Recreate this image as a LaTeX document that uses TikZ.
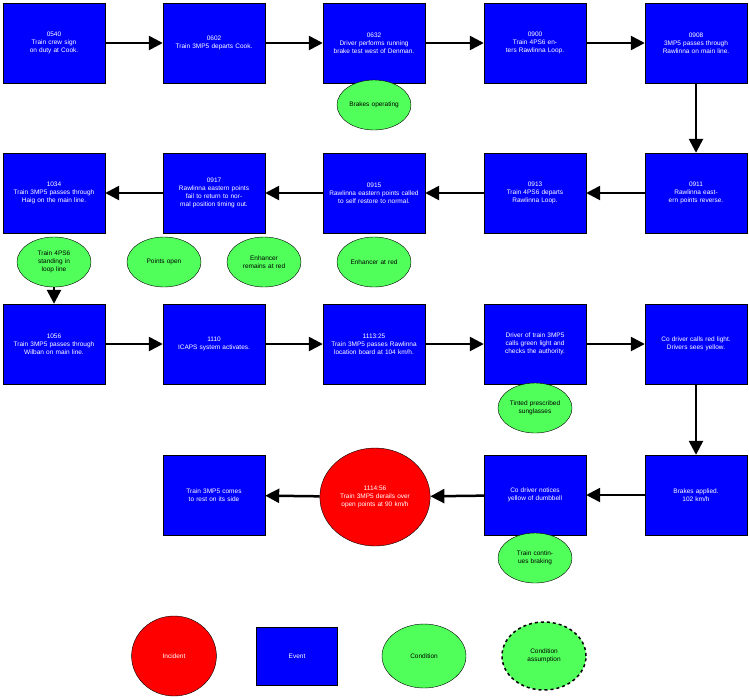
\documentclass[tikz,border=0pt]{standalone}
\usepackage{fontspec}
\setmainfont{Liberation Sans}
\usetikzlibrary{arrows.meta,shapes.geometric}
\definecolor{evblue}{RGB}{0,0,255}
\definecolor{cdgreen}{RGB}{80,255,90}
\definecolor{inred}{RGB}{255,0,0}

\begin{document}
\begin{tikzpicture}[x=1pt,y=-1pt,
	event/.style={draw,fill=evblue,text=white,minimum width=102pt,minimum height=80pt,inner sep=1pt,text width=92pt,align=center,font=\fontsize{6.5}{8}\selectfont},
	cond/.style={draw,fill=cdgreen,ellipse,minimum width=74pt,minimum height=50pt,inner sep=0pt,text width=52pt,align=center,font=\fontsize{6.5}{8}\selectfont},
	incident/.style={draw,fill=inred,text=white,ellipse,minimum width=98pt,minimum height=98pt,inner sep=0pt,text width=78pt,align=center,font=\fontsize{6.5}{8}\selectfont},
	flow/.style={line width=2.5pt,-{Triangle[length=14pt,width=14pt]}}]
	\useasboundingbox (0,0) rectangle (749,697);
	\draw (54,43) node(v1) [event] {0540\\Train crew sign on duty at Cook.};
	\draw (214,43) node(v2) [event] {0602\\Train 3MP5 departs Cook.};
	\draw (374,43) node(v3) [event] {0632\\Driver performs running brake test west of Denman.};
	\draw (535,43) node(v4) [event] {0900\\Train 4PS6 enters Rawlinna Loop.};
	\draw (696,43) node(v5) [event] {0908\\3MP5 passes through Rawlinna on main line.};
	\draw (696,193) node(v6) [event] {0911\\Rawlinna eastern points reverse.};
	\draw (535,193) node(v7) [event] {0913\\Train 4PS6 departs Rawlinna Loop.};
	\draw (374,193) node(v8) [event] {0915\\Rawlinna eastern points called to self restore to normal.};
	\draw (214,193) node(v9) [event] {0917\\Rawlinna eastern points fail to return to normal position timing out.};
	\draw (54,193) node(v10) [event] {1034\\Train 3MP5 passes through Haig on the main line.};
	\draw (54,344) node(v11) [event] {1056\\Train 3MP5 passes through Wilban on main line.};
	\draw (214,344) node(v12) [event] {1110\\ICAPS system activates.};
	\draw (374,344) node(v13) [event] {1113:25\\Train 3MP5 passes Rawlinna location board at 104 km/h.};
	\draw (535,344) node(v14) [event] {Driver of train 3MP5 calls green light and checks the authority.};
	\draw (696,344) node(v15) [event] {Co driver calls red light. Drivers sees yellow.};
	\draw (696,495) node(v16) [event] {Brakes applied.\\102 km/h};
	\draw (535,495) node(v17) [event] {Co driver notices yellow of dumbbell};
	\draw (375,497) node(v18) [incident] {1114:56\\Train 3MP5 derails over open points at 90 km/h};
	\draw (214,495) node(v19) [event] {Train 3MP5 comes to rest on its side};
	\draw (374,105) node(v103) [cond] {Brakes operating};
	\draw (54,262) node(v110) [cond] {Train 4PS6 standing in loop line};
	\draw (164,262) node(v109) [cond] {Points open};
	\draw (264,262) node(v108) [cond] {Enhancer remains at red};
	\draw (374,262) node(v107) [cond] {Enhancer at red};
	\draw (535,408) node(v114) [cond] {Tinted prescribed sunglasses};
	\draw (535,558) node(v117) [cond] {Train continues braking};
	\draw (174,656) node(k1) [incident,minimum width=72pt,minimum height=80pt,text width=60pt] {Incident};
	\draw (297,656) node(k2) [event,minimum width=81pt,minimum height=58pt,text width=70pt] {Event};
	\draw (424,656) node(k3) [cond,minimum width=84pt,minimum height=64pt] {Condition};
	\draw (544,656) node(k4) [cond,minimum width=84pt,minimum height=68pt,dashed,line width=1.5pt] {Condition assumption};
	\path[draw,flow] (v1) -- (v2);
	\path[draw,flow] (v2) -- (v3);
	\path[draw,flow] (v3) -- (v4);
	\path[draw,flow] (v4) -- (v5);
	\path[draw,flow] (v5) -- (v6);
	\path[draw,flow] (v6) -- (v7);
	\path[draw,flow] (v7) -- (v8);
	\path[draw,flow] (v8) -- (v9);
	\path[draw,flow] (v9) -- (v10);
	\path[draw,flow] (v110) -- (v11);
	\path[draw,flow] (v11) -- (v12);
	\path[draw,flow] (v12) -- (v13);
	\path[draw,flow] (v13) -- (v14);
	\path[draw,flow] (v14) -- (v15);
	\path[draw,flow] (v15) -- (v16);
	\path[draw,flow] (v16) -- (v17);
	\path[draw,flow] (v17) -- (v18);
	\path[draw,flow] (v18) -- (v19);
\end{tikzpicture}
\end{document}
